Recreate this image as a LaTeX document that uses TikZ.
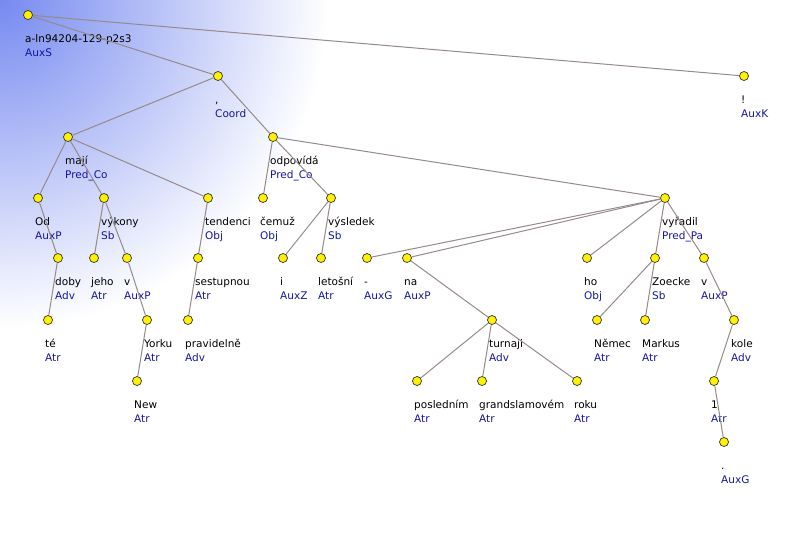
\documentclass[tikz,border=0pt]{standalone}
\usepackage{fontspec}
\setmainfont{DejaVu Sans}
\usepackage{tikz}
\usepackage{xcolor}
\definecolor{glow}{RGB}{118,138,240}
\definecolor{fnblue}{RGB}{20,20,160}
\definecolor{edgegray}{RGB}{150,138,138}
\pgfdeclareradialshading{glowshade}{\pgfpoint{0bp}{0bp}}{color(0bp)=(glow); color(20bp)=(white); color(50bp)=(white)}
\newcommand{\wl}[2]{#1\\\color{fnblue}#2}

\begin{document}
\begin{tikzpicture}[x=1pt,y=-1pt,
  tn/.style={circle,draw=black!80,fill=yellow,line width=0.7pt,inner sep=0pt,minimum size=9pt},
  wd/.style={anchor=base west,align=left,inner sep=0pt,font=\fontsize{10.5}{14}\selectfont},
  edge/.style={draw=edgegray,line width=1pt}]
\useasboundingbox (0,0) rectangle (796,550);
% corner glow
\begin{scope}
\clip (0,0) rectangle (796,550);
\shade[shading=glowshade] (0,0) circle (410);
\end{scope}
% nodes
\node[tn] (root) at (28,15) {};
\node[tn] (coord) at (218,76) {};
\node[tn] (excl) at (744,76) {};
\node[tn] (maji) at (68,137) {};
\node[tn] (odpovida) at (273,137) {};
\node[tn] (od) at (38,198) {};
\node[tn] (vykony) at (104,198) {};
\node[tn] (tendenci) at (208,198) {};
\node[tn] (cemuz) at (263,198) {};
\node[tn] (vysledek) at (331,198) {};
\node[tn] (vyradil) at (665,198) {};
\node[tn] (doby) at (58,258) {};
\node[tn] (jeho) at (94,258) {};
\node[tn] (va) at (127,258) {};
\node[tn] (sestupnou) at (198,258) {};
\node[tn] (i) at (283,258) {};
\node[tn] (letosni) at (321,258) {};
\node[tn] (dash) at (367,258) {};
\node[tn] (na) at (407,258) {};
\node[tn] (ho) at (587,258) {};
\node[tn] (zoecke) at (655,258) {};
\node[tn] (vb) at (704,258) {};
\node[tn] (te) at (48,320) {};
\node[tn] (yorku) at (147,320) {};
\node[tn] (pravidelne) at (188,320) {};
\node[tn] (turnaji) at (492,320) {};
\node[tn] (nemec) at (597,320) {};
\node[tn] (markus) at (645,320) {};
\node[tn] (kole) at (734,320) {};
\node[tn] (new) at (137,381) {};
\node[tn] (poslednim) at (417,381) {};
\node[tn] (grand) at (482,381) {};
\node[tn] (roku) at (577,381) {};
\node[tn] (one) at (714,381) {};
\node[tn] (dot) at (724,442) {};
% labels
\node[wd] (rootl) at ([shift={(-3,41)}]root.center) {\wl{a-ln94204-129-p2s3}{AuxS}};
\node[wd] (coordl) at ([shift={(-3,41)}]coord.center) {\wl{,}{Coord}};
\node[wd] (excll) at ([shift={(-3,41)}]excl.center) {\wl{!}{AuxK}};
\node[wd] (majil) at ([shift={(-3,41)}]maji.center) {\wl{mají}{Pred\_Co}};
\node[wd] (odpovidal) at ([shift={(-3,41)}]odpovida.center) {\wl{odpovídá}{Pred\_Co}};
\node[wd] (odl) at ([shift={(-3,41)}]od.center) {\wl{Od}{AuxP}};
\node[wd] (vykonyl) at ([shift={(-3,41)}]vykony.center) {\wl{výkony}{Sb}};
\node[wd] (tendencil) at ([shift={(-3,41)}]tendenci.center) {\wl{tendenci}{Obj}};
\node[wd] (cemuzl) at ([shift={(-3,41)}]cemuz.center) {\wl{čemuž}{Obj}};
\node[wd] (vysledekl) at ([shift={(-3,41)}]vysledek.center) {\wl{výsledek}{Sb}};
\node[wd] (vyradill) at ([shift={(-3,41)}]vyradil.center) {\wl{vyřadil}{Pred\_Pa}};
\node[wd] (dobyl) at ([shift={(-3,41)}]doby.center) {\wl{doby}{Adv}};
\node[wd] (jehol) at ([shift={(-3,41)}]jeho.center) {\wl{jeho}{Atr}};
\node[wd] (val) at ([shift={(-3,41)}]va.center) {\wl{v}{AuxP}};
\node[wd] (sestupnoul) at ([shift={(-3,41)}]sestupnou.center) {\wl{sestupnou}{Atr}};
\node[wd] (il) at ([shift={(-3,41)}]i.center) {\wl{i}{AuxZ}};
\node[wd] (letosnil) at ([shift={(-3,41)}]letosni.center) {\wl{letošní}{Atr}};
\node[wd] (dashl) at ([shift={(-3,41)}]dash.center) {\wl{-}{AuxG}};
\node[wd] (nal) at ([shift={(-3,41)}]na.center) {\wl{na}{AuxP}};
\node[wd] (hol) at ([shift={(-3,41)}]ho.center) {\wl{ho}{Obj}};
\node[wd] (zoeckel) at ([shift={(-3,41)}]zoecke.center) {\wl{Zoecke}{Sb}};
\node[wd] (vbl) at ([shift={(-3,41)}]vb.center) {\wl{v}{AuxP}};
\node[wd] (tel) at ([shift={(-3,41)}]te.center) {\wl{té}{Atr}};
\node[wd] (yorkul) at ([shift={(-3,41)}]yorku.center) {\wl{Yorku}{Atr}};
\node[wd] (pravidelnel) at ([shift={(-3,41)}]pravidelne.center) {\wl{pravidelně}{Adv}};
\node[wd] (turnajil) at ([shift={(-3,41)}]turnaji.center) {\wl{turnaji}{Adv}};
\node[wd] (nemecl) at ([shift={(-3,41)}]nemec.center) {\wl{Němec}{Atr}};
\node[wd] (markusl) at ([shift={(-3,41)}]markus.center) {\wl{Markus}{Atr}};
\node[wd] (kolel) at ([shift={(-3,41)}]kole.center) {\wl{kole}{Adv}};
\node[wd] (newl) at ([shift={(-3,41)}]new.center) {\wl{New}{Atr}};
\node[wd] (poslednimll) at ([shift={(-3,41)}]poslednim.center) {\wl{posledním}{Atr}};
\node[wd] (grandl) at ([shift={(-3,41)}]grand.center) {\wl{grandslamovém}{Atr}};
\node[wd] (rokul) at ([shift={(-3,41)}]roku.center) {\wl{roku}{Atr}};
\node[wd] (onel) at ([shift={(-3,41)}]one.center) {\wl{1}{Atr}};
\node[wd] (dotl) at ([shift={(-3,41)}]dot.center) {\wl{.}{AuxG}};
% edges
\draw[edge] (root) -- (coord);
\draw[edge] (root) -- (excl);
\draw[edge] (coord) -- (maji);
\draw[edge] (coord) -- (odpovida);
\draw[edge] (maji) -- (od);
\draw[edge] (maji) -- (vykony);
\draw[edge] (maji) -- (tendenci);
\draw[edge] (od) -- (doby);
\draw[edge] (doby) -- (te);
\draw[edge] (vykony) -- (jeho);
\draw[edge] (vykony) -- (va);
\draw[edge] (va) -- (yorku);
\draw[edge] (yorku) -- (new);
\draw[edge] (tendenci) -- (sestupnou);
\draw[edge] (sestupnou) -- (pravidelne);
\draw[edge] (odpovida) -- (cemuz);
\draw[edge] (odpovida) -- (vysledek);
\draw[edge] (odpovida) -- (vyradil);
\draw[edge] (vysledek) -- (i);
\draw[edge] (vysledek) -- (letosni);
\draw[edge] (vyradil) -- (dash);
\draw[edge] (vyradil) -- (na);
\draw[edge] (vyradil) -- (ho);
\draw[edge] (vyradil) -- (zoecke);
\draw[edge] (vyradil) -- (vb);
\draw[edge] (na) -- (turnaji);
\draw[edge] (turnaji) -- (poslednim);
\draw[edge] (turnaji) -- (grand);
\draw[edge] (turnaji) -- (roku);
\draw[edge] (zoecke) -- (nemec);
\draw[edge] (zoecke) -- (markus);
\draw[edge] (vb) -- (kole);
\draw[edge] (kole) -- (one);
\draw[edge] (one) -- (dot);
\end{tikzpicture}
\end{document}
